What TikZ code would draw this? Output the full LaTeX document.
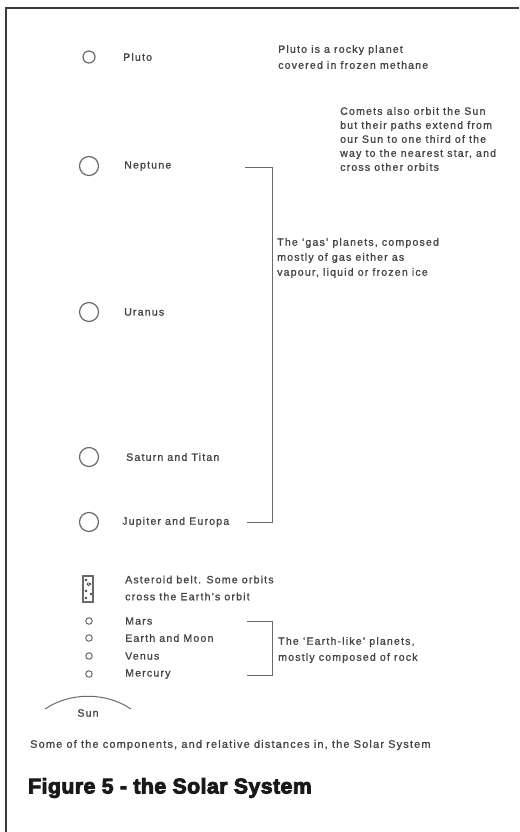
\documentclass[tikz,border=0pt]{standalone}
\usepackage{fontspec}
\setmainfont[LetterSpace=11,FakeBold=1.2]{Liberation Sans}
\newfontfamily\titlefont[FakeBold=4,LetterSpace=2]{Liberation Sans Bold}
\definecolor{ink}{HTML}{454545}
\definecolor{lineg}{HTML}{6A6A6A}
\definecolor{framec}{HTML}{3C3C3C}
\begin{document}
\begin{tikzpicture}[x=1pt,y=-1pt,
  planet/.style={circle,draw=lineg,line width=1.2pt,inner sep=0pt},
  bigplanet/.style={planet,minimum size=19pt},
  smallplanet/.style={planet,line width=1pt,minimum size=6.5pt},
  lbl/.style={anchor=west,inner sep=0pt,text=ink,font=\fontsize{10.6}{15}\selectfont},
  desc/.style={lbl,align=left},
  brk/.style={draw=lineg,line width=1pt},
  dot/.style={circle,fill=ink,inner sep=0pt,minimum size=2.6pt}]
\useasboundingbox (0,0) rectangle (519,832);
% frame
\coordinate (fBL) at (6,832);
\coordinate (fTL) at (6,8);
\coordinate (fTR) at (519,8);
\draw[framec,line width=2pt] (fBL) -- (fTL) -- (fTR);

% Pluto
\node[planet,minimum size=12pt] (pluto) at (89,57) {};
\node[lbl] (plutoL) at (123,57) {Pluto};
\node[desc,font=\fontsize{10.6}{16}\selectfont] (plutoD) at (278,57) {Pluto is a rocky planet\\covered in frozen methane};

% Comets
\node[desc,font=\fontsize{10.6}{14}\selectfont] (comets) at (340,139) {Comets also orbit the Sun\\but their paths extend from\\our Sun to one third of the\\way to the nearest star, and\\cross other orbits};

% gas planets
\node[bigplanet] (neptune) at (89,166) {};
\node[lbl] (neptuneL) at (124,166) {Neptune};
\node[bigplanet] (uranus) at (89,312) {};
\node[lbl] (uranusL) at (124,312) {Uranus};
\node[bigplanet] (saturn) at (89,457) {};
\node[lbl] (saturnL) at (126,457) {Saturn and Titan};
\node[bigplanet] (jupiter) at (89,522) {};
\node[lbl] (jupiterL) at (122,522) {Jupiter and Europa};

\coordinate (gT) at (245,167);
\coordinate (gTR) at (272,167);
\coordinate (gBR) at (272,522);
\coordinate (gB) at (247,522);
\draw[brk] (gT) -- (gTR) -- (gBR) -- (gB);
\node[desc] (gasD) at (277,258) {The `gas' planets, composed\\mostly of gas either as\\vapour, liquid or frozen ice};

% asteroid belt
\node[draw=lineg,line width=1.2pt,minimum width=10pt,minimum height=26pt,inner sep=0pt] (ast) at (88,589) {};
\node[dot] (a1) at (86,580) {};
\node[dot] (a2) at (90,584) {};
\node[dot] (a3) at (86,591) {};
\node[dot] (a4) at (91,594) {};
\node[dot] (a5) at (86,598) {};
\draw[ink,line width=0.9pt] (a2) ++(-1,2) arc (90:250:1.8);
\node[desc,font=\fontsize{10.6}{17}\selectfont] (astD) at (125,588) {Asteroid belt. Some orbits\\cross the Earth's orbit};

% Earth-like planets
\node[smallplanet] (mars) at (89,621) {};
\node[lbl] (marsL) at (125,621) {Mars};
\node[smallplanet] (earth) at (89,638) {};
\node[lbl] (earthL) at (125,638) {Earth and Moon};
\node[smallplanet] (venus) at (89,656) {};
\node[lbl] (venusL) at (125,656) {Venus};
\node[smallplanet] (mercury) at (89,674) {};
\node[lbl] (mercuryL) at (125,674) {Mercury};

\coordinate (eT) at (247,621);
\coordinate (eTR) at (272,621);
\coordinate (eBR) at (272,675);
\coordinate (eB) at (247,675);
\draw[brk] (eT) -- (eTR) -- (eBR) -- (eB);
\node[desc,font=\fontsize{10.6}{16}\selectfont] (earthD) at (278,650) {The `Earth-like' planets,\\mostly composed of rock};

% Sun
\coordinate (sunL) at (45,709);
\coordinate (sunR) at (131,709);
\draw[brk] (sunL) .. controls (70,692) and (106,692) .. (sunR);
\node[lbl,anchor=center] (sun) at (88,713) {Sun};

% caption and title
\node[lbl,font=\fontsize{10.9}{15}\selectfont] (caption) at (30,745) {Some of the components, and relative distances in, the Solar System};
\node[anchor=west,inner sep=0pt,text=black!90,font=\titlefont\fontsize{21.3}{24}\selectfont] (title) at (28,788) {Figure 5 - the Solar System};
\end{tikzpicture}
\end{document}
